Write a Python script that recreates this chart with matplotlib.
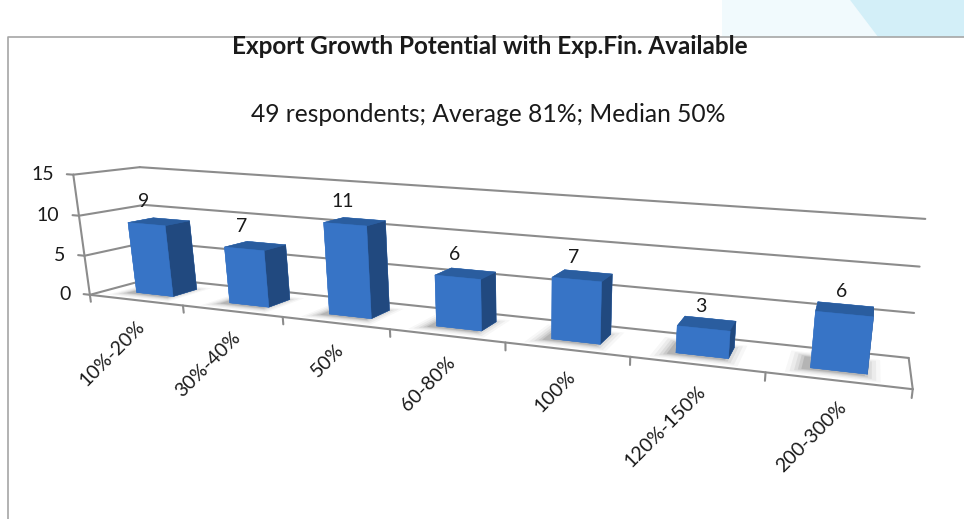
import numpy as np
import matplotlib
matplotlib.use('Agg')
import matplotlib.pyplot as plt
from matplotlib.lines import Line2D
from matplotlib.patches import Polygon
from mpl_toolkits.mplot3d import proj3d
from mpl_toolkits.mplot3d.art3d import Poly3DCollection

# data
categories = ['10%-20%', '30%-40%', '50%', '60-80%', '100%', '120%-150%', '200-300%']
counts = [9, 7, 11, 6, 7, 3, 6]
z_ticks = [0, 5, 10, 15]

title = 'Export Growth Potential with Exp.Fin. Available'
subtitle = '49 respondents; Average 81%; Median 50%'

plt.rcParams['font.family'] = ['Lato', 'DejaVu Sans']

W, H = 964, 519
fig = plt.figure(figsize=(W / 100, H / 100), dpi=100)
fig.patch.set_facecolor('white')

# slide decoration + chart frame
fig.patches.append(Polygon([(722 / W, 1), (850 / W, 1), (878 / W, 1 - 37 / H), (722 / W, 1 - 37 / H)],
                           closed=True, transform=fig.transFigure, facecolor='#f1fafd', edgecolor='none'))
fig.patches.append(Polygon([(850 / W, 1), (1, 1), (1, 1 - 37 / H), (878 / W, 1 - 37 / H)],
                           closed=True, transform=fig.transFigure, facecolor='#d3eff8', edgecolor='none'))
fig.lines.append(Line2D([8 / W, 8 / W, 1], [0, 1 - 37 / H, 1 - 37 / H], transform=fig.transFigure,
                        color='#a6a6a6', lw=1.2))

fig.text(0.508, 1 - 47 / H, title, ha='center', va='center', fontsize=17.5, fontweight='bold', color='#1a1a1a')
fig.text(0.506, 1 - 114 / H, subtitle, ha='center', va='center', fontsize=17.7, color='#1a1a1a')

# 3D panel: square of S px, view centre at (cx, cy) px from top-left
S = 1600
cx, cy = 622.5, 306.8
frac = 0.095 / 0.185
rect = [(cx - frac * S) / W, ((H - cy) - frac * S) / H, S / W, S / H]
ax = fig.add_axes(rect, projection='3d', computed_zorder=False)
ax.patch.set_alpha(0)

n = len(categories)
xs = np.arange(n)
x0, x1 = -0.5, n - 0.5

# camera: look-at point and box extents
look = (4.08, 1.77, 0.35)
half = (3.5, 0.5, 7.5)
ax.set_xlim(look[0] - half[0], look[0] + half[0])
ax.set_ylim(look[1] - half[1], look[1] + half[1])
ax.set_zlim(look[2] - half[2], look[2] + half[2])
ax.set_box_aspect((7, 0.717, 1.066), zoom=0.484)
ax.set_proj_type('persp', focal_length=0.0991)
ax.view_init(elev=15, azim=-74.6, roll=-1.6)
ax.set_axis_off()

# walls, floor and axis lines
line_kw = dict(color='#8c8c8c', lw=1.5, zorder=1, clip_on=False, solid_capstyle='round')
for v in z_ticks:
    ax.plot([x0, x1], [1, 1], [v, v], **line_kw)
    ax.plot([x0, x0], [0, 1], [v, v], **line_kw)
    ax.plot([x0 - 0.07, x0], [0, 0], [v, v], **line_kw)
ax.plot([x0, x0], [0, 0], [0, z_ticks[-1]], **line_kw)
ax.plot([x0, x1], [0, 0], [0, 0], **line_kw)
ax.plot([x1, x1], [0, 1], [0, 0], **line_kw)
for b in np.arange(n + 1) - 0.5:
    ax.plot([b, b], [0, 0], [0, -0.9], **line_kw)

# bars
bar_w, bar_d, bar_y = 0.4, 0.4, 0.3

# soft floor shadows
for x in xs:
    for grow, a in [(0.12, 0.04), (0.09, 0.06), (0.06, 0.08), (0.035, 0.1), (0.012, 0.14)]:
        xa, xb = x - bar_w / 2 - grow - 0.05, x + bar_w / 2 + grow - 0.03
        ya, yb = bar_y - grow * 1.4 - 0.05, bar_y + bar_d + grow * 1.4 - 0.05
        poly = Poly3DCollection([[(xa, ya, 0), (xb, ya, 0), (xb, yb, 0), (xa, yb, 0)]],
                                facecolor=(0.2, 0.2, 0.2, a), edgecolor='none', zorder=2)
        poly.set_clip_on(False)
        ax.add_collection3d(poly)

front, top, side = '#3774c6', '#2a5d9f', '#21497f'
face_colors = []
for _ in counts:
    face_colors += [front, top, front, front, front, side]
bars = ax.bar3d(xs - bar_w / 2, np.full(n, bar_y), np.zeros(n), bar_w, bar_d, counts,
                color=face_colors, edgecolor=face_colors, linewidth=0.3, shade=False, zorder=3)
bars.set_clip_on(False)

# labels placed at projected positions
M = ax.get_proj()


def to2d(x, y, z):
    px, py, _ = proj3d.proj_transform(x, y, z, M)
    return px, py


for x, c in zip(xs, counts):
    ax.annotate(str(c), xy=to2d(x, bar_y, c), xytext=(-2, 10), textcoords='offset points',
                ha='center', va='bottom', fontsize=14, color='#1a1a1a', annotation_clip=False)

for x, lab in zip(xs, categories):
    ax.annotate(lab, xy=to2d(x, 0, 0), xytext=(0, -13), textcoords='offset points',
                ha='right', va='top', rotation=45, rotation_mode='anchor',
                fontsize=14, color='#1a1a1a', annotation_clip=False)

for v in z_ticks:
    ax.annotate(str(v), xy=to2d(x0, 0, v), xytext=(-14, 0), textcoords='offset points',
                ha='right', va='center', fontsize=14, color='#1a1a1a', annotation_clip=False)

fig.savefig('out.png', dpi=100, facecolor='white')
